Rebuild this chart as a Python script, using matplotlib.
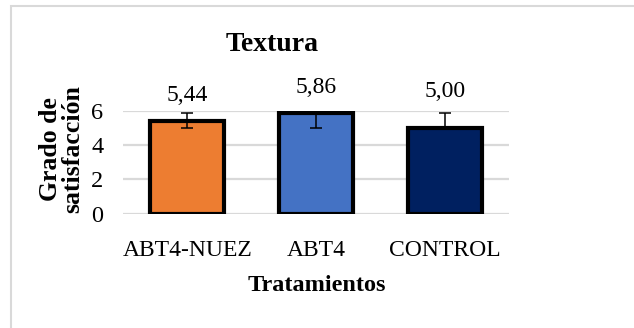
import matplotlib.pyplot as plt
from matplotlib.patches import Rectangle

# Data
categories = ["ABT4-NUEZ", "ABT4", "CONTROL"]
values = [5.44, 5.86, 5.00]
err_low = [0.42, 0.83, 0.0]
err_high = [0.42, 0.0, 0.87]
value_labels = ["5,44", "5,86", "5,00"]
label_y = [6.90, 7.35, 7.15]
colors = ["#ED7D31", "#4472C4", "#002060"]
yticks = [0, 2, 4, 6]

plt.rcParams["font.family"] = ["Liberation Serif", "DejaVu Serif"]

fig = plt.figure(figsize=(6.34, 3.28), dpi=100)
ax = fig.add_axes([0.194, 0.3485, 0.609, 0.313])

x = list(range(len(categories)))
ax.bar(x, values, width=0.575, color=colors, edgecolor="black",
       linewidth=3, zorder=3)
ax.errorbar(x, values, yerr=[err_low, err_high], fmt="none",
            ecolor="black", elinewidth=1.1, capsize=4, capthick=1.1, zorder=4)

for xi, lab, ly in zip(x, value_labels, label_y):
    ax.text(xi, ly, lab, ha="center", va="center", fontsize=17, clip_on=False)

ax.set_xlim(-0.5, 2.5)
ax.set_ylim(0, 6)
ax.set_yticks(yticks)
ax.set_xticks(x)
ax.set_xticklabels(categories, fontsize=17)
ax.tick_params(axis="y", labelsize=17.5, length=0, pad=14)
ax.tick_params(axis="x", length=0, pad=19)
ax.yaxis.grid(True, color="#d9d9d9", linewidth=1.6, zorder=0)
ax.set_axisbelow(True)
for s in ax.spines.values():
    s.set_visible(False)

fig.text(0.43, 0.865, "Textura", ha="center", va="center",
         fontsize=20, fontweight="bold")
fig.text(0.499, 0.13, "Tratamientos", ha="center", va="center",
         fontsize=17.5, fontweight="bold")
fig.text(0.097, 0.545, "Grado de\nsatisfacción", ha="center", va="center",
         rotation=90, fontsize=18.5, fontweight="bold", linespacing=0.95)

# Chart frame
fig.patches.append(Rectangle((11 / 634, -0.1), 1.2, 1 - 6.5 / 328 + 0.1,
                             transform=fig.transFigure, fill=False,
                             edgecolor="#d9d9d9", linewidth=1.5))

fig.savefig("out.png", dpi=100)
